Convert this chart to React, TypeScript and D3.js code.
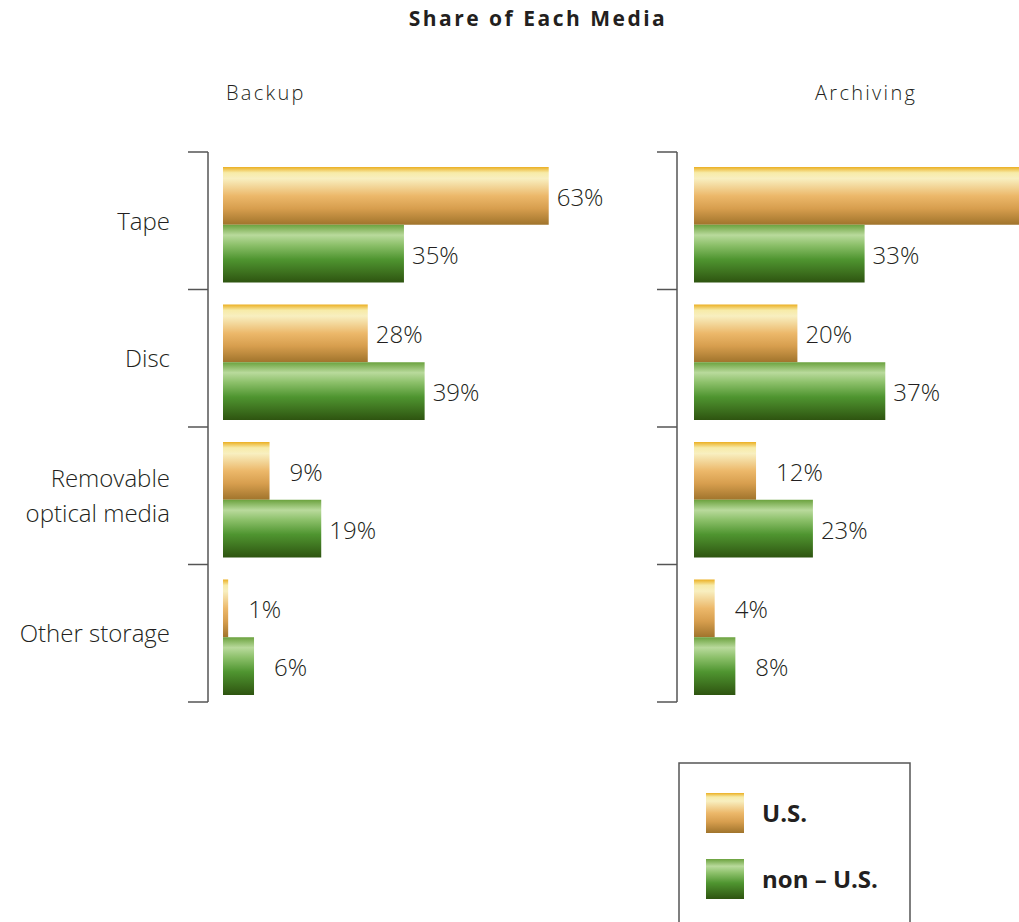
import React from "react";
import * as d3 from "d3";

const categories = ["Tape", "Disc", "Removable\noptical media", "Other storage"];
const series = ["U.S.", "non – U.S."];
const panels = ["Backup", "Archiving"];
const backupUS = [63, 28, 9, 1];
const backupNonUS = [35, 39, 19, 6];
const archivingUS = [65, 20, 12, 4];
const archivingNonUS = [33, 37, 23, 8];
const title = "Share of Each Media";

const W = 1019;
const H = 922;

const panelData = [
  { name: panels[0], values: [backupUS, backupNonUS], axisX: 208, barX: 223, headerX: 226 },
  { name: panels[1], values: [archivingUS, archivingNonUS], axisX: 677, barX: 694, headerX: 815 },
];

const gradIds = ["gradUS", "gradNonUS"];

export default function App() {
  const y = d3.scaleBand<string>().domain(categories).range([152, 702]).paddingInner(0).paddingOuter(0);
  const bandH = y.bandwidth();
  const inner = d3.scaleBand<string>().domain(series).range([15, bandH - 7]).padding(0);
  const pxPerPct = 5.17;
  const labelFont = "'Open Sans', sans-serif";

  return (
    <svg width={W} height={H} style={{ position: "absolute", left: 0, top: 0, background: "#fff" }}>
      <defs>
        <linearGradient id="gradUS" x1="0" y1="0" x2="0" y2="1">
          <stop offset="0" stopColor="#EBAF22" />
          <stop offset="0.1" stopColor="#F7EBA8" />
          <stop offset="0.2" stopColor="#F8EFC0" />
          <stop offset="0.5" stopColor="#ECB86A" />
          <stop offset="0.72" stopColor="#D79E4E" />
          <stop offset="1" stopColor="#A0742C" />
        </linearGradient>
        <linearGradient id="gradNonUS" x1="0" y1="0" x2="0" y2="1">
          <stop offset="0" stopColor="#6BA23E" />
          <stop offset="0.18" stopColor="#B9DA9C" />
          <stop offset="0.35" stopColor="#8CC06A" />
          <stop offset="0.6" stopColor="#4F9530" />
          <stop offset="1" stopColor="#2E5410" />
        </linearGradient>
      </defs>

      <text
        x={538}
        y={26}
        textAnchor="middle"
        fontFamily={labelFont}
        fontWeight={700}
        fontSize={21}
        letterSpacing={2.5}
        fill="#231f20"
      >
        {title}
      </text>

      {panelData.map((p) => {
        const x = d3.scaleLinear().domain([0, 100]).range([p.barX, p.barX + 100 * pxPerPct]);
        const ticks = [...categories.map((c) => y(c)!), y.range()[1]];
        return (
          <g key={p.name}>
            <text
              x={p.headerX}
              y={100}
              fontFamily={labelFont}
              fontWeight={300}
              fontSize={20}
              letterSpacing={2.3}
              fill="#231f20"
            >
              {p.name}
            </text>
            <line x1={p.axisX} x2={p.axisX} y1={ticks[0]} y2={ticks[ticks.length - 1]} stroke="#555" strokeWidth={1.5} />
            {ticks.map((t, i) => (
              <line key={i} x1={p.axisX - 20} x2={p.axisX} y1={t} y2={t} stroke="#555" strokeWidth={1.5} />
            ))}
            {categories.map((c, ci) => (
              <g key={c}>
                {series.map((s, si) => {
                  const v = p.values[si][ci];
                  const by = y(c)! + inner(s)!;
                  const bw = x(v) - x(0);
                  const off = v < 15 ? 20 : 8;
                  const lx = x(v) + off;
                  return (
                    <g key={s}>
                      <rect x={x(0)} y={by} width={bw} height={inner.bandwidth()} fill={`url(#${gradIds[si]})`} />
                      {lx < W - 10 && (
                        <text
                          x={lx}
                          y={by + inner.bandwidth() / 2}
                          dy="0.42em"
                          fontFamily={labelFont}
                          fontWeight={300}
                          fontSize={24}
                          fill="#231f20"
                        >
                          {v}%
                        </text>
                      )}
                    </g>
                  );
                })}
              </g>
            ))}
          </g>
        );
      })}

      {categories.map((c) => {
        const lines = c.split("\n");
        const cy = y(c)! + bandH / 2;
        return (
          <text key={c} x={170} textAnchor="end" fontFamily={labelFont} fontWeight={300} fontSize={24} fill="#231f20">
            {lines.map((l, i) => (
              <tspan key={i} x={170} y={cy + (i - (lines.length - 1) / 2) * 35} dy="0.38em">
                {l}
              </tspan>
            ))}
          </text>
        );
      })}

      <rect x={679} y={763} width={231} height={200} fill="none" stroke="#555" strokeWidth={1.5} />
      {series.map((s, si) => (
        <g key={s}>
          <rect x={706} y={793 + si * 66} width={38} height={40} fill={`url(#${gradIds[si]})`} />
          <text
            x={762}
            y={813 + si * 66}
            dy="0.36em"
            fontFamily={labelFont}
            fontWeight={700}
            fontSize={24}
            fill="#231f20"
          >
            {s}
          </text>
        </g>
      ))}
    </svg>
  );
}
